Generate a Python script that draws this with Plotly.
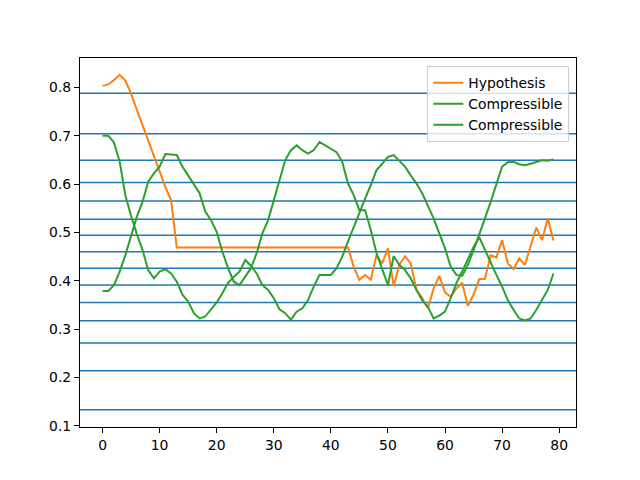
import plotly.graph_objects as go

x_index = list(range(80))

hypothesis = [
    0.803, 0.806, 0.815, 0.826, 0.814, 0.787, 0.754, 0.722, 0.689, 0.656,
    0.624, 0.594, 0.567, 0.469, 0.469, 0.469, 0.469, 0.469, 0.469, 0.469,
    0.469, 0.469, 0.469, 0.469, 0.469, 0.469, 0.469, 0.469, 0.469, 0.469,
    0.469, 0.469, 0.469, 0.469, 0.469, 0.469, 0.469, 0.469, 0.469, 0.469,
    0.469, 0.469, 0.469, 0.469, 0.429, 0.402, 0.412, 0.402, 0.453, 0.436,
    0.467, 0.389, 0.433, 0.451, 0.436, 0.381, 0.364, 0.343, 0.384, 0.410,
    0.376, 0.367, 0.384, 0.396, 0.348, 0.371, 0.403, 0.404, 0.453, 0.448,
    0.484, 0.436, 0.424, 0.446, 0.433, 0.474, 0.510, 0.484, 0.529, 0.483,
]

compressible_a = [
    0.700, 0.700, 0.686, 0.646, 0.577, 0.534, 0.497, 0.464, 0.422, 0.405,
    0.419, 0.424, 0.415, 0.398, 0.371, 0.357, 0.333, 0.322, 0.326, 0.340,
    0.355, 0.374, 0.396, 0.408, 0.419, 0.443, 0.431, 0.415, 0.391, 0.381,
    0.364, 0.341, 0.333, 0.319, 0.336, 0.343, 0.360, 0.388, 0.412, 0.412,
    0.412, 0.426, 0.450, 0.481, 0.512, 0.543, 0.570, 0.598, 0.629, 0.642,
    0.656, 0.660, 0.649, 0.636, 0.618, 0.601, 0.581, 0.556, 0.529, 0.498,
    0.467, 0.429, 0.412, 0.410, 0.433, 0.463, 0.498, 0.529, 0.563, 0.601,
    0.636, 0.645, 0.646, 0.641, 0.639, 0.642, 0.646, 0.649, 0.648, 0.651,
]

compressible_b = [
    0.379, 0.379, 0.391, 0.419, 0.453, 0.494, 0.532, 0.563, 0.605, 0.622,
    0.636, 0.662, 0.661, 0.660, 0.636, 0.618, 0.601, 0.581, 0.543, 0.525,
    0.501, 0.460, 0.426, 0.398, 0.391, 0.408, 0.426, 0.457, 0.498, 0.525,
    0.567, 0.605, 0.649, 0.670, 0.680, 0.670, 0.663, 0.670, 0.687, 0.680,
    0.673, 0.666, 0.646, 0.601, 0.577, 0.546, 0.546, 0.505, 0.457, 0.422,
    0.391, 0.451, 0.433, 0.422, 0.405, 0.381, 0.360, 0.346, 0.322, 0.328,
    0.336, 0.364, 0.395, 0.419, 0.443, 0.470, 0.490, 0.463, 0.436, 0.412,
    0.388, 0.360, 0.340, 0.322, 0.318, 0.322, 0.340, 0.360, 0.381, 0.415,
]

reference_levels = [
    0.788, 0.704, 0.649, 0.603, 0.565, 0.527, 0.494, 0.460, 0.426, 0.391,
    0.355, 0.317, 0.271, 0.214, 0.133,
]

series_names = ["Hypothesis", "Compressible", "Compressible"]
series_colors = ["#ff7f0e", "#2ca02c", "#2ca02c"]

fig = go.Figure()

for level in reference_levels:
    fig.add_shape(
        type="line", xref="paper", x0=0, x1=1, yref="y", y0=level, y1=level,
        line=dict(color="#1f77b4", width=1.5), layer="below",
    )

for name, values, color in zip(series_names, [hypothesis, compressible_a, compressible_b], series_colors):
    fig.add_trace(go.Scatter(
        x=x_index, y=values, mode="lines", name=name,
        line=dict(color=color, width=2),
    ))

axis_common = dict(
    showline=True, linecolor="black", linewidth=1.1, mirror=True,
    ticks="outside", ticklen=5, tickwidth=1.1, tickcolor="black",
    showgrid=False, zeroline=False,
    tickfont=dict(family="DejaVu Sans", size=13.9, color="black"),
)

fig.update_layout(
    width=640, height=480,
    margin=dict(l=80, r=64, t=57.6, b=52.8, pad=0),
    paper_bgcolor="white", plot_bgcolor="white",
    showlegend=True,
    legend=dict(
        x=0.9865, y=0.978, xanchor="right", yanchor="top",
        bgcolor="rgba(255,255,255,0.8)", bordercolor="#cccccc", borderwidth=1,
        font=dict(family="DejaVu Sans", size=13.9, color="black"),
        tracegroupgap=0,
    ),
    font=dict(family="DejaVu Sans", color="black"),
)
fig.update_xaxes(range=[-3.95, 82.95], tickmode="linear", tick0=0, dtick=10, **axis_common)
fig.update_yaxes(range=[0.0975, 0.8607], tickmode="linear", tick0=0.1, dtick=0.1, tickformat=".1f", **axis_common)

fig.write_html(
    "out.html",
    config={"displayModeBar": False},
    post_script="document.body.style.margin='0px';document.body.style.padding='0px';",
)
